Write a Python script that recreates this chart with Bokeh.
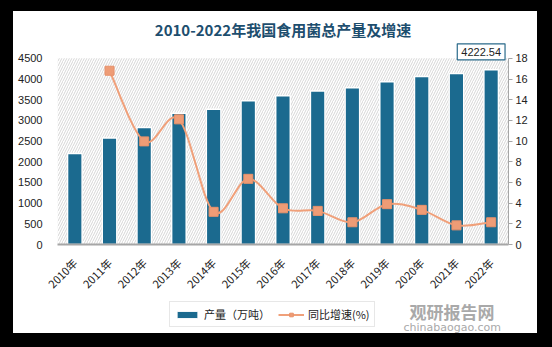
import math
from bokeh.plotting import figure
from bokeh.models import (Range1d, LinearAxis, FixedTicker, BoxAnnotation, Legend, LegendItem,
                          Label, ColumnDataSource, FactorRange)
from bokeh.core.properties import value
from bokeh.layouts import column
from bokeh.embed import file_html
from bokeh.resources import INLINE

years = ["2010年", "2011年", "2012年", "2013年", "2014年", "2015年", "2016年",
         "2017年", "2018年", "2019年", "2020年", "2021年", "2022年"]
production = [2201.6, 2571.7, 2828.0, 3169.7, 3270.0, 3476.2, 3596.7,
              3712.0, 3789.0, 3934.0, 4061.4, 4133.9, 4222.54]
growth = [None, 16.8, 9.97, 12.1, 3.16, 6.35, 3.5, 3.25, 2.15, 3.9, 3.35, 1.85, 2.15]
left_ticks = [0, 500, 1000, 1500, 2000, 2500, 3000, 3500, 4000, 4500]
right_ticks = [0, 2, 4, 6, 8, 10, 12, 14, 16, 18]

TITLE = "2010-2022年我国食用菌总产量及增速"
LEGEND_BAR = "产量（万吨）"
LEGEND_LINE = "同比增速(%)"
WM1 = "观研报告网"
WM2 = "chinabaogao.com"
BAR_C = "#1B6A8F"
LINE_C = "#F0A07A"
MARK_C = "#EE9C76"
CJK = "Noto Sans CJK SC"
NUM = "Liberation Sans"
NAN = float("nan")

# frame geometry (px): axis span 188 px, frame extended 17 px above the top tick
AXIS_PX = 188
FRAME_PX = 205
ext = FRAME_PX / AXIS_PX

p = figure(width=524, height=288, x_range=FactorRange(*years, range_padding=0),
           y_range=Range1d(0, left_ticks[-1] * ext), output_backend="svg",
           toolbar_location=None, min_border_left=44, min_border_right=29,
           min_border_top=30, min_border_bottom=53)
p.margin = (11, 15, 0, 13)
p.styles = {"background-color": "white"}
p.border_fill_color = "white"
p.background_fill_color = "white"
p.outline_line_color = None
p.grid.visible = False
p.extra_y_ranges = {"g": Range1d(0, right_ticks[-1] * ext)}

# hatched plot background up to the top tick
p.add_layout(BoxAnnotation(top=left_ticks[-1], bottom=left_ticks[0], fill_color="white",
                           fill_alpha=1, line_color=None,
                           hatch_pattern="/", hatch_color="#d6d6d6", hatch_scale=5,
                           hatch_weight=1, level="underlay"))

p.title.text = TITLE
p.title.align = "center"
p.title.text_font = CJK
p.title.text_font_size = "15px"
p.title.text_color = "#1D4E6E"
p.title.text_font_style = "bold"
p.title.standoff = 3

src = ColumnDataSource(dict(x=years, y=production))
p.vbar(x="x", top="y", width=0.47, source=src, fill_color="#000000", fill_alpha=0.10,
       line_color=None)
p.vbar(x="x", top="y", width=0.42, source=src, fill_color=BAR_C,
       line_color="white", line_width=1.5)

# smooth growth line via bezier segments
gx = [i + 0.5 for i, g in enumerate(growth) if g is not None]
gy = [g for g in growth if g is not None]
n = len(gx)
bx0, by0, bx1, by1, cx0, cy0, cx1, cy1 = [], [], [], [], [], [], [], []
for i in range(n - 1):
    p0 = (gx[max(i - 1, 0)], gy[max(i - 1, 0)])
    p1 = (gx[i], gy[i])
    p2 = (gx[i + 1], gy[i + 1])
    p3 = (gx[min(i + 2, n - 1)], gy[min(i + 2, n - 1)])
    bx0.append(p1[0]); by0.append(p1[1]); bx1.append(p2[0]); by1.append(p2[1])
    cx0.append(p1[0] + (p2[0] - p0[0]) / 6); cy0.append(p1[1] + (p2[1] - p0[1]) / 6)
    cx1.append(p2[0] - (p3[0] - p1[0]) / 6); cy1.append(p2[1] - (p3[1] - p1[1]) / 6)
p.bezier(x0=bx0, y0=by0, x1=bx1, y1=by1, cx0=cx0, cy0=cy0, cx1=cx1, cy1=cy1,
         line_color=LINE_C, line_width=2, y_range_name="g")
p.scatter(x=gx, y=gy, marker="square", size=9, fill_color=MARK_C,
          line_color="#E8916A", y_range_name="g")

la = p.yaxis[0]
la.ticker = FixedTicker(ticks=left_ticks)
la.axis_line_color = None
la.major_tick_line_color = None
la.minor_tick_line_color = None
la.major_label_text_font = NUM
la.major_label_text_font_size = "11px"
la.major_label_text_color = "#222222"
la.major_label_standoff = 9

ra = LinearAxis(y_range_name="g", ticker=FixedTicker(ticks=right_ticks),
                bounds=(right_ticks[0], right_ticks[-1]))
ra.axis_line_color = "#a6a6a6"
ra.major_tick_line_color = "#a6a6a6"
ra.major_tick_out = 4
ra.major_tick_in = 0
ra.minor_tick_line_color = None
ra.major_label_text_font = NUM
ra.major_label_text_font_size = "11px"
ra.major_label_text_color = "#222222"
ra.major_label_standoff = 3
p.add_layout(ra, "right")

xa = p.xaxis[0]
xa.axis_line_color = "#a6a6a6"
xa.axis_line_width = 2
xa.major_tick_line_color = None
xa.major_label_orientation = math.pi / 4
xa.major_label_text_font = CJK
xa.major_label_text_font_size = "11px"
xa.major_label_text_color = "#222222"
xa.major_label_standoff = 10

# value label of the last bar as a boxed text glyph
p.text(x=[years[-1]], y=[production[-1]], text=[f"{production[-1]:.2f}"],
       x_offset=-10, y_offset=-18, text_align="center", text_baseline="middle",
       text_font=value(NUM), text_font_size="11px", text_color="#222222",
       background_fill_color="white", border_line_color="#2A6A8A",
       border_line_width=1.2, padding=4)

# bottom strip: legend and watermark (its frame aligns with the main frame)
q = figure(width=524, height=34, x_range=Range1d(0, 1), y_range=Range1d(0, 1),
           x_axis_type=None, y_axis_type=None, output_backend="svg", toolbar_location=None,
           min_border=0, min_border_left=0, min_border_right=0, min_border_top=0,
           min_border_bottom=0, title=None)
q.margin = (0, 15, 14, 13)
q.styles = {"background-color": "white"}
q.border_fill_color = "white"
q.background_fill_color = "white"
q.outline_line_color = None
q.grid.visible = False
lb = q.vbar(x=[NAN], top=[NAN], width=0.5, fill_color=BAR_C, line_color="white", line_width=1)
ll = q.line(x=[NAN], y=[NAN], line_color=LINE_C, line_width=2)
lm = q.scatter(x=[NAN], y=[NAN], marker="square", size=8, fill_color=MARK_C,
               line_color="#E8916A")
legend = Legend(items=[LegendItem(label=LEGEND_BAR, renderers=[lb]),
                       LegendItem(label=LEGEND_LINE, renderers=[ll, lm])],
                orientation="horizontal", location=(112, 6),
                label_text_font=CJK, label_text_font_size="11px", label_text_color="#222222",
                border_line_color="#d0d0d0", background_fill_color="white",
                glyph_width=26, glyph_height=9, spacing=8, padding=4, margin=0,
                label_standoff=4, label_height=14)
q.add_layout(legend, "center")
q.add_layout(Label(x=352, y=22, x_units="screen", y_units="screen", text=WM1,
                   text_font=CJK, text_font_style="bold", text_font_size="17px",
                   text_color="#a9a9a9", text_baseline="middle"))
q.add_layout(Label(x=346, y=6, x_units="screen", y_units="screen", text=WM2,
                   text_font="DejaVu Sans", text_font_size="11px",
                   text_color="#a9a9a9", text_baseline="middle"))

layout = column(p, q, styles={"background-color": "black"}, width=552, height=347, spacing=0)
open("out.html", "w").write(file_html(layout, INLINE))
